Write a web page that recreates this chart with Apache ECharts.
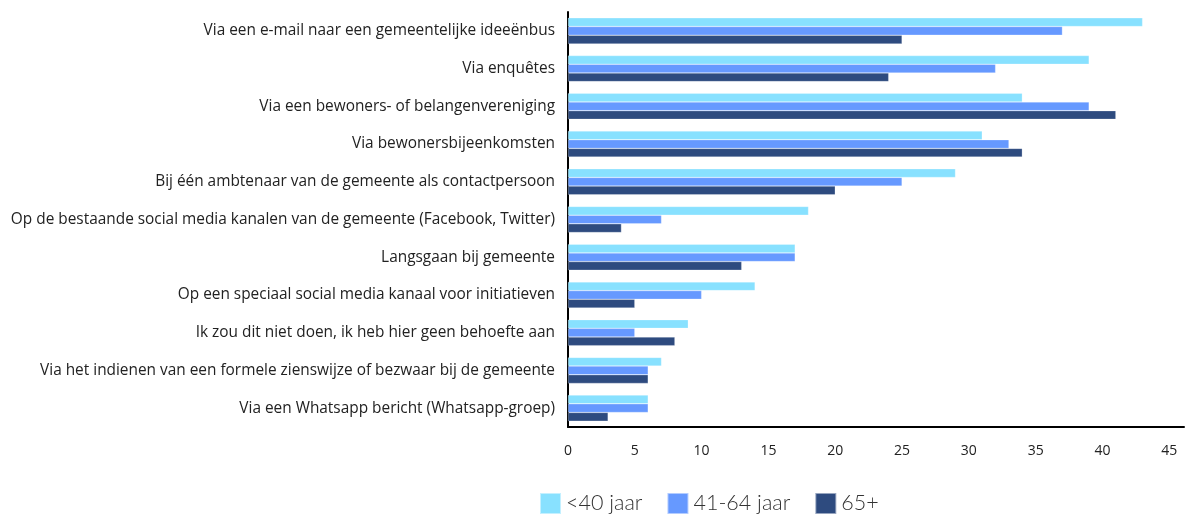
<!DOCTYPE html>
<html><head><meta charset="utf-8">
<script src="https://cdn.jsdelivr.net/npm/echarts@6/dist/echarts.min.js"></script>
<style>html,body{margin:0;padding:0;background:#fff}#c{width:1185px;height:517px}</style>
</head><body><div id="c"></div>
<script>
const categories = [
  "Via een e-mail naar een gemeentelijke ideeënbus",
  "Via enquêtes",
  "Via een bewoners- of belangenvereniging",
  "Via bewonersbijeenkomsten",
  "Bij één ambtenaar van de gemeente als contactpersoon",
  "Op de bestaande social media kanalen van de gemeente (Facebook, Twitter)",
  "Langsgaan bij gemeente",
  "Op een speciaal social media kanaal voor initiatieven",
  "Ik zou dit niet doen, ik heb hier geen behoefte aan",
  "Via het indienen van een formele zienswijze of bezwaar bij de gemeente",
  "Via een Whatsapp bericht (Whatsapp-groep)"
];
const seriesNames = ["<40 jaar", "41-64 jaar", "65+"];
const under40 = [43, 39, 34, 31, 29, 18, 17, 14, 9, 7, 6];
const age41to64 = [37, 32, 39, 33, 25, 7, 17, 10, 5, 6, 6];
const age65plus = [25, 24, 41, 34, 20, 4, 13, 5, 8, 6, 3];
const colors = ["#88E1FF", "#6699FF", "#2E4B7F"];

const chart = echarts.init(document.getElementById('c'), null, {renderer: 'canvas'});
const mk = (name, data, i) => ({
  name, type: 'bar', data,
  barGap: '0%', barCategoryGap: '31%',
  itemStyle: {color: colors[i], borderColor: 'rgba(255,255,255,0.5)', borderWidth: 0.5},
  animation: false
});
chart.setOption({
  animation: false,
  grid: {left: 568, right: 1, top: 12, bottom: 90, containLabel: false},
  legend: {
    left: 534, top: 487, padding: [5, 5, 5, 5], itemWidth: 21, itemHeight: 21, itemGap: 24,
    icon: 'rect',
    textStyle: {fontFamily: 'Lato', fontWeight: 300, fontSize: 21.5, color: '#333', padding: [2, 0, 0, 0]},
    data: seriesNames
  },
  xAxis: {
    type: 'value', min: 0, max: 46.1, interval: 5,
    axisLine: {show: true, lineStyle: {color: '#000', width: 2}},
    axisTick: {show: false},
    splitLine: {show: false},
    axisLabel: {showMaxLabel: false, margin: 17, fontFamily: 'Open Sans', fontSize: 14, color: '#222'}
  },
  yAxis: {
    type: 'category', data: categories, inverse: true,
    axisLine: {show: true, lineStyle: {color: '#000', width: 2}},
    axisTick: {show: false},
    axisLabel: {margin: 13, fontFamily: 'Open Sans', fontSize: 15.4, color: '#222'}
  },
  series: [mk(seriesNames[0], under40, 0), mk(seriesNames[1], age41to64, 1), mk(seriesNames[2], age65plus, 2)]
});
</script></body></html>
